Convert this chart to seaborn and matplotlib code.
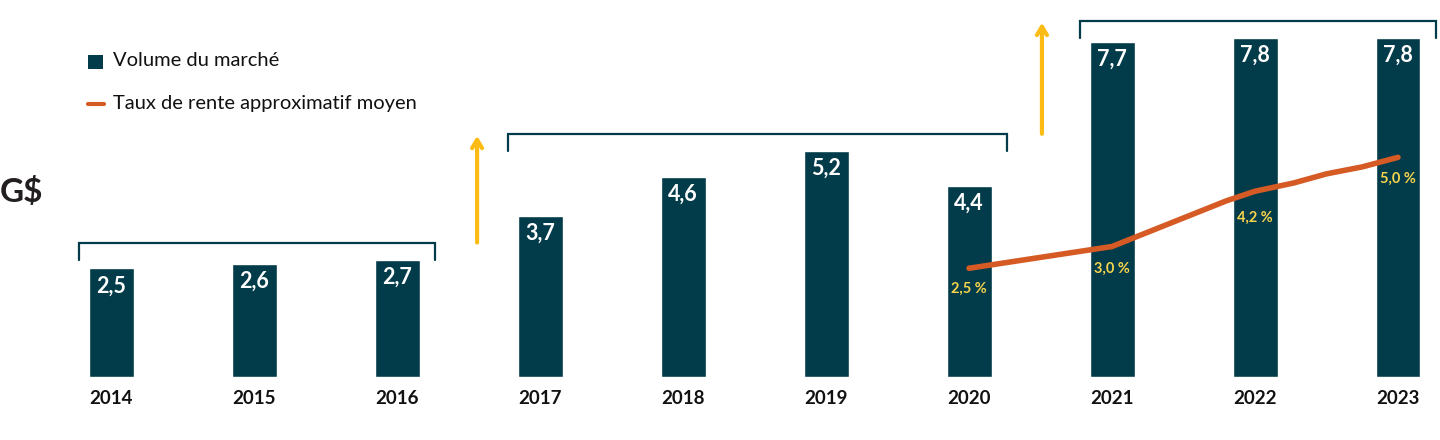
import matplotlib
matplotlib.use("Agg")
import matplotlib.pyplot as plt
import seaborn as sns
import pandas as pd
from matplotlib.patches import Rectangle
from matplotlib.lines import Line2D

# ---------------- data ----------------
years = [2014, 2015, 2016, 2017, 2018, 2019, 2020, 2021, 2022, 2023]
volumes = [2.5, 2.6, 2.7, 3.7, 4.6, 5.2, 4.4, 7.7, 7.8, 7.8]
volume_labels = ["2,5", "2,6", "2,7", "3,7", "4,6", "5,2", "4,4", "7,7", "7,8", "7,8"]

rate_time = [2020, 2021, 2021.8, 2022, 2022.27, 2022.5, 2022.75, 2023]
rate_values = [2.5, 3.0, 4.05, 4.27, 4.46, 4.67, 4.83, 5.05]
rate_label_years = [2020, 2021, 2022, 2023]
rate_label_values = [2.5, 3.0, 4.27, 5.05]
rate_label_text = ["2,5 %", "3,0 %", "4,2 %", "5,0 %"]

groups = [(2014, 2016), (2017, 2020), (2021, 2023)]
legend_labels = ["Volume du marché", "Taux de rente approximatif moyen"]
unit_label = "G$"

# ---------------- style ----------------
TEAL = "#023b49"
ORANGE = "#d65a24"
YELLOW = "#f6d44c"
ARROW = "#fdbc14"

sns.set_theme(style="white")
plt.rcParams["font.family"] = ["Lato", "DejaVu Sans"]

W, H = 1440, 440
PXU_X = 143.0     # pixels per category step
PXU_Y = 43.5      # pixels per data unit
X0 = 111          # pixel of first category
BASE = 377        # pixel row of baseline

fig = plt.figure(figsize=(W / 100, H / 100), dpi=100)
ax = fig.add_axes([0, (H - BASE) / H, 1, BASE / H])

df = pd.DataFrame({"year": [str(y) for y in years], "volume": volumes})
sns.barplot(data=df, x="year", y="volume", color=TEAL, saturation=1,
            width=45 / PXU_X, errorbar=None, ax=ax)

pos = {y: i for i, y in enumerate(years)}

# bar value labels
for i, (v, lab) in enumerate(zip(volumes, volume_labels)):
    ax.annotate(lab, (i, v), xytext=(0, -24), textcoords="offset pixels",
                ha="center", va="baseline", color="white",
                fontsize=15.5, fontweight="bold")

# year labels
for i, y in enumerate(years):
    ax.annotate(str(y), (i, 0), xytext=(0, -27), textcoords="offset pixels",
                ha="center", va="baseline", color="#111111",
                fontsize=13.5, fontweight="bold", annotation_clip=False)

# rate line
rdf = pd.DataFrame({"x": [t - years[0] for t in rate_time], "rate": rate_values})
sns.lineplot(data=rdf, x="x", y="rate", color=ORANGE, linewidth=4,
             sort=False, estimator=None, ax=ax, solid_capstyle="round")
ax.set_xlim(-X0 / PXU_X, (W - X0) / PXU_X)
ax.set_ylim(0, BASE / PXU_Y)
ax.axis("off")

rate_offsets = [-25, -26, -31, -25]
for y, v, t, off in zip(rate_label_years, rate_label_values, rate_label_text, rate_offsets):
    ax.annotate(t, (pos[y], v), xytext=(0, off), textcoords="offset pixels",
                ha="center", va="baseline", color=YELLOW,
                fontsize=10.5, fontweight="bold")

# group brackets
bracket_y = []
for a, b in groups:
    ia, ib = pos[a], pos[b]
    top = max(volumes[ia:ib + 1])
    yb = top + 17 / PXU_Y
    bracket_y.append(yb)
    xa = ia - 32 / PXU_X
    xb = ib + 38 / PXU_X
    ax.plot([xa, xa, xb, xb], [top, yb, yb, top], color=TEAL, lw=1.6,
            solid_joinstyle="miter")

# arrows between groups
arrow_x = [2.56, 6.51]
for k, xa in enumerate(arrow_x):
    y0 = bracket_y[k]
    y1 = bracket_y[k + 1] - 2 / PXU_Y
    ax.annotate("", xy=(xa, y1), xytext=(xa, y0),
                arrowprops=dict(arrowstyle="->,head_length=0.5,head_width=0.3",
                                color=ARROW, lw=3, shrinkA=0, shrinkB=0,
                                capstyle="round"))

# legend (manual)
fig.add_artist(Rectangle((88 / W, 1 - 69 / H), 15 / W, 14 / H,
                         transform=fig.transFigure, color=TEAL, lw=0))
fig.add_artist(Line2D([88 / W, 104 / W], [1 - 104 / H, 1 - 104 / H],
                      transform=fig.transFigure, color=ORANGE, lw=3))
fig.text(113 / W, 1 - 60 / H, legend_labels[0], ha="left", va="center",
         fontsize=14.5, color="#111111")
fig.text(113 / W, 1 - 103 / H, legend_labels[1], ha="left", va="center",
         fontsize=14.5, color="#111111")

# unit label
fig.text(0 / W, 1 - 192 / H, unit_label, ha="left", va="center",
         fontsize=24, fontweight="bold", color="#231f20")

fig.savefig("out.png", dpi=100)
